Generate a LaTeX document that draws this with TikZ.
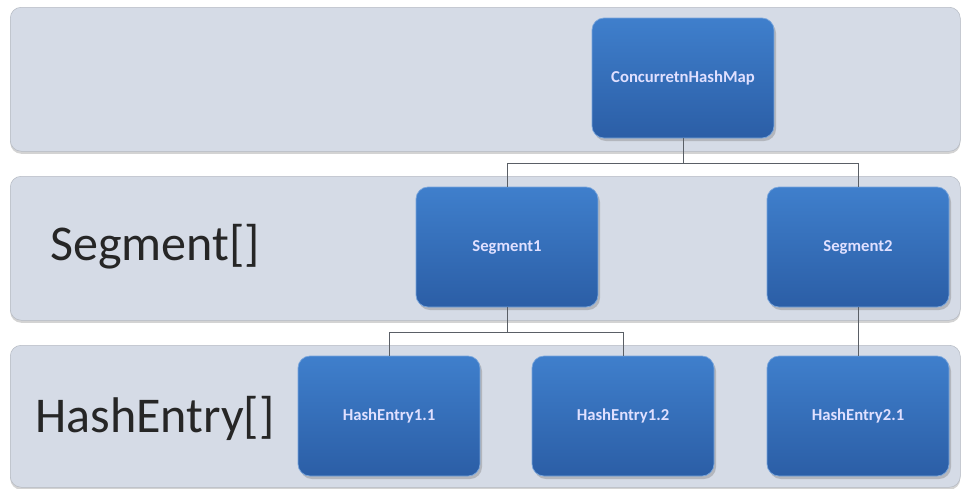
\documentclass[tikz,border=0pt]{standalone}
\usepackage{fontspec}
\setmainfont{Carlito}
\usepackage{tikz}
\usetikzlibrary{positioning,calc,shadows}
\definecolor{bandgray}{HTML}{D5DBE6}
\definecolor{boxtop}{HTML}{3F7FCC}
\definecolor{boxbot}{HTML}{2B5EA6}
\definecolor{wire}{HTML}{5A5F66}
\tikzset{band/.style={anchor=north west,fill=bandgray,draw=bandgray!85!black,line width=0.3pt,rounded corners=2.2mm,inner sep=0pt,drop shadow={shadow xshift=0pt,shadow yshift=-0.5mm,opacity=0.35}}}

\begin{document}
\begin{tikzpicture}[x=0.2mm,y=-0.2mm]
\tikzstyle{blk}=[rounded corners=2.4mm,top color=boxtop,bottom color=boxbot,draw=boxtop!70!white,line width=0.4pt,minimum width=36.4mm,minimum height=24mm,text=white!88!blue,font=\bfseries\fontsize{9.5}{11}\selectfont,drop shadow={shadow xshift=0.4mm,shadow yshift=-0.6mm,opacity=0.4}]
\tikzstyle{lvl}=[font=\fontsize{28.5}{32}\selectfont,text=black!85,anchor=west,inner sep=0pt]
\tikzstyle{link}=[draw=wire,line width=0.5pt]

   \useasboundingbox (0,0) rectangle (962,488);

   % background bands
   \path (10,7) node[band,minimum width=190mm,minimum height=28.8mm] (band1) {}
         (10,176) node[band,minimum width=190mm,minimum height=28.8mm] (band2) {}
         (10,345) node[band,minimum width=190mm,minimum height=28.4mm] (band3) {};

   \node[lvl] (seglbl) at (50,247) {Segment[]};
   \node[lvl] (entlbl) at (35,418) {HashEntry[]};

   % tree
   \path (683,78) node[blk] (chm) {ConcurretnHashMap}
         (507,247) node[blk] (seg1) {Segment1}
         (858,247) node[blk] (seg2) {Segment2}
         (389,416) node[blk] (he11) {HashEntry1.1}
         (623,416) node[blk] (he12) {HashEntry1.2}
         (858,416) node[blk] (he21) {HashEntry2.1};

   \draw[link] (chm.south) -- ++(0,25) -| (seg1.north);
   \draw[link] (chm.south) -- ++(0,25) -| (seg2.north);
   \draw[link] (seg1.south) -- ++(0,25) -| (he11.north);
   \draw[link] (seg1.south) -- ++(0,25) -| (he12.north);
   \draw[link] (seg2) -- (he21);
\end{tikzpicture}
\end{document}
